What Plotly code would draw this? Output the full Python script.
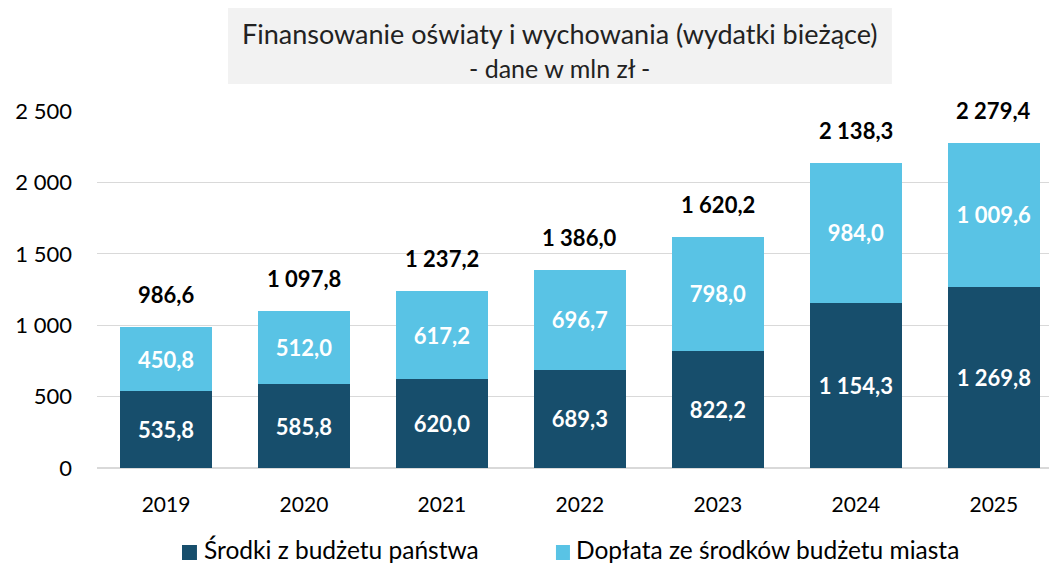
import plotly.graph_objects as go

years = ["2019", "2020", "2021", "2022", "2023", "2024", "2025"]
state_budget = [535.8, 585.8, 620.0, 689.3, 822.2, 1154.3, 1269.8]
city_budget = [450.8, 512.0, 617.2, 696.7, 798.0, 984.0, 1009.6]
totals = [986.6, 1097.8, 1237.2, 1386.0, 1620.2, 2138.3, 2279.4]
series_names = ["Środki z budżetu państwa", "Dopłata ze środków budżetu miasta"]

DARK = "#174E6C"
LIGHT = "#59C3E5"
FONT = "Lato, Calibri, sans-serif"


def pl(v):
    # polish number format: space thousands, comma decimal
    s = f"{v:,.1f}"
    return s.replace(",", " ").replace(".", ",")


fig = go.Figure()

for vals, name, col in [(state_budget, series_names[0], DARK),
                        (city_budget, series_names[1], LIGHT)]:
    fig.add_trace(go.Bar(
        x=years, y=vals, name=name,
        marker=dict(color=col, line=dict(width=0)),
        text=[pl(v) for v in vals], textposition="inside",
        insidetextanchor="middle",
        textfont=dict(color="white", size=22, family=FONT, weight="bold"),
    ))

# totals above bars (x given as category index)
for i, t in enumerate(totals):
    fig.add_annotation(
        x=i, y=t, text=f"<b>{pl(t)}</b>", showarrow=False,
        yanchor="bottom", yshift=17,
        font=dict(size=22, color="black", family=FONT),
    )

# title box
fig.add_shape(type="rect", xref="paper", yref="paper",
              x0=0.1376, x1=0.835, y0=1.0756, y1=1.2885,
              fillcolor="#F2F2F2", line=dict(width=0), layer="below")
fig.add_annotation(xref="paper", yref="paper", x=0.486, y=1.218,
                   yanchor="middle",
                   text="Finansowanie oświaty i wychowania (wydatki bieżące)",
                   showarrow=False, font=dict(size=27, color="#222", family=FONT))
fig.add_annotation(xref="paper", yref="paper", x=0.486, y=1.12,
                   yanchor="middle",
                   text="- dane w mln zł -",
                   showarrow=False, font=dict(size=25, color="#222", family=FONT))

# legend drawn by hand (square + label)
for (sx0, sx1, tx), name, col in [((0.0893, 0.1050, 0.1103), series_names[0], DARK),
                                  ((0.4821, 0.4968, 0.5011), series_names[1], LIGHT)]:
    fig.add_shape(type="rect", xref="paper", yref="paper",
                  x0=sx0, x1=sx1, y0=-0.2577, y1=-0.2157,
                  fillcolor=col, line=dict(width=0))
    fig.add_annotation(xref="paper", yref="paper", x=tx, y=-0.2283,
                       xanchor="left", yanchor="middle", text=name,
                       showarrow=False,
                       font=dict(size=24.5, color="black", family=FONT))

fig.update_layout(
    barmode="stack",
    bargap=0.333,
    width=1049, height=563,
    margin=dict(l=97, r=0, t=111, b=95),
    plot_bgcolor="white", paper_bgcolor="white",
    separators=", ",
    font=dict(family=FONT, size=21, color="black"),
    showlegend=False,
    uniformtext=dict(mode="show", minsize=10),
)
fig.update_xaxes(type="category", range=[-0.5, 6.4], showgrid=False,
                 showline=False, ticks="", tickfont=dict(size=21),
                 ticklabelstandoff=22, automargin=False)
fig.update_yaxes(range=[0, 2500], dtick=500, tickformat=",d",
                 showgrid=True, gridcolor="#D9D9D9", gridwidth=1,
                 zeroline=True, zerolinecolor="#D9D9D9", zerolinewidth=2,
                 tickfont=dict(size=22), ticks="", ticklabelstandoff=24,
                 automargin=False)

fig.write_html("out.html", config={"displayModeBar": False},
               post_script="document.body.style.margin='0';")
